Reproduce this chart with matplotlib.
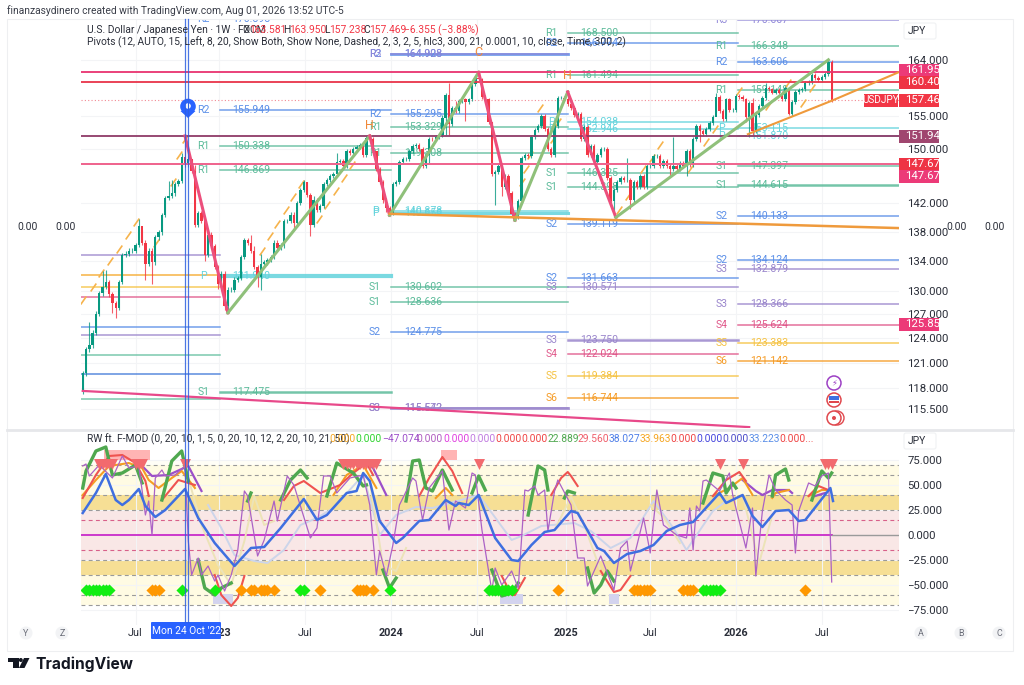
import matplotlib
matplotlib.use("Agg")
import matplotlib.pyplot as plt
from matplotlib.patches import Circle, Polygon, Rectangle, FancyBboxPatch
from matplotlib.ticker import NullLocator
import numpy as np

plt.rcParams["font.family"] = ["Roboto", "DejaVu Sans"]

nan = float("nan")

# weekly closes
closes = [
    119.7, 122.6, 123.1, 124.7, 127.1, 129.7, 130.6, 131.2, 129.6, 128.4,
    127.8, 131.2, 134.8, 135.0, 135.4, 135.4, 136.2, 138.8, 136.5, 133.6,
    135.4, 133.8, 137.2, 137.9, 140.3, 142.7, 143.0, 143.4, 144.8, 145.2,
    148.7, 147.6, 148.4, 146.7, 138.9, 140.6, 139.5, 134.8, 137.6, 136.0,
    133.2, 131.0, 132.3, 128.1, 130.2, 130.2, 131.5, 131.7, 134.5, 136.8,
    136.5, 135.4, 133.2, 131.9, 133.6, 133.8, 134.1, 134.5, 136.5, 135.8,
    136.1, 139.5, 139.5, 140.4, 139.2, 142.0, 143.9, 145.0, 143.2, 138.9,
    142.4, 141.1, 141.6, 144.8, 145.3, 146.0, 146.2, 148.0, 148.2, 147.4,
    149.6, 149.3, 150.0, 150.3, 150.5, 149.0, 151.6, 151.4, 149.7, 147.0,
    145.0, 142.4, 141.3, 140.6, 144.8, 145.0, 148.0, 148.4, 148.4, 149.7,
    150.4, 150.6, 149.9, 147.4, 149.0, 151.5, 151.4, 151.7, 152.1, 154.7,
    158.3, 153.7, 156.3, 155.8, 157.3, 157.6, 157.2, 157.6, 160.0, 161.1,
    160.8, 158.0, 157.6, 154.0, 146.3, 146.5, 147.4, 144.3, 146.0, 143.5,
    140.5, 140.0, 142.3, 148.6, 149.1, 148.9, 151.7, 152.8, 153.4, 155.0,
    153.0, 150.0, 149.0, 153.5, 157.9, 157.9, 157.6, 156.9, 156.2, 155.1,
    155.3, 151.4, 153.3, 149.0, 150.4, 148.0, 149.0, 149.9, 149.9, 145.6,
    142.3, 143.9, 145.0, 145.7, 145.3, 145.4, 142.5, 145.0, 144.3, 146.0,
    144.4, 147.4, 147.4, 148.9, 148.9, 147.4, 148.1, 147.4, 147.0, 147.4,
    147.0, 147.8, 147.4, 149.7, 147.6, 151.4, 153.4, 152.7, 152.2, 153.0,
    153.9, 154.9, 158.0, 155.8, 154.5, 157.6, 156.0, 156.0, 158.1, 158.0,
    157.6, 154.8, 157.0, 152.7, 155.2, 156.6, 157.8, 159.5, 159.2, 158.7,
    159.1, 158.7, 157.6, 159.5, 155.3, 157.2, 158.8, 159.1, 159.3, 160.2,
    160.4, 161.5, 161.0, 160.7, 161.2, 161.7, 163.581, 157.469,
]
first_open = 117.6
long_highs = {2: 126, 6: 132.6, 7: 132.8, 17: 139.8, 18: 138.2, 26: 145.2, 27: 145.3,
              30: 149.3, 31: 151.94, 32: 149.5, 33: 148.5, 34: 147.6, 37: 139.2,
              51: 137.6, 52: 136, 54: 135.0, 68: 145.0, 70: 143, 77: 149.3, 87: 151.94,
              89: 149.5, 109: 155.2, 110: 158.6, 111: 160.2, 113: 157.4, 120: 161.95,
              124: 154, 147: 158.8, 165: 148.6, 179: 151.7, 192: 158.7, 203: 157.8,
              207: 160.2, 214: 159.6, 226: 163.95, 227: 163.95}
long_lows = {0: 117.2, 9: 127.2, 10: 126.6, 19: 131.5, 21: 131, 37: 134, 41: 130.3,
             43: 127.5, 44: 127.2, 53: 130.5, 54: 130.1, 64: 138.2, 69: 137.4, 92: 140.8,
             93: 140.3, 105: 147.8, 110: 152, 111: 152, 116: 154.2, 125: 141.8, 127: 143,
             131: 139.6, 160: 141.8, 161: 140.0, 166: 141.2, 178: 146, 183: 146, 187: 151,
             192: 155.6, 201: 154, 202: 151.7, 203: 152, 214: 155.1, 227: 157.238}

# zigzag pivots
zig_i = [31, 44, 87, 93, 120, 131, 147, 161.6, 226]
zig_p = [151.94, 127.2, 151.94, 140.3, 161.95, 139.6, 158.8, 140.0, 164.0]
dash_i = [0, 3, 5.6, 8.4, 11, 13.7, 16.2, 22.2, 27.4, 29.2, 31, 54.2, 56.8, 59, 61.5, 63.8,
          66.1, 71.7, 74.1, 76.7, 79.3, 81.5, 133, 134.3, 135.5, 138.6, 142.5, 144, 162.6,
          165.3, 169.8, 172.4, 175, 184, 189, 191.6, 199, 207.7, 213.7, 218.3, 221]
dash_p = [128.9, 130.6, 132.4, 134, 135.6, 137.6, 139.3, 136.5, 145, 149, 151.4, 135.4, 137.4,
          139.1, 141, 142.9, 144.8, 139.8, 141.8, 143.7, 145.7, 147.6, 145, 147, 149.1, 156.3,
          151.4, 154, 141, 143, 147, 148.6, 150.5, 147, 151, 153, 159, 156.6, 160.3, 157, 159.5]

# horizontal alert lines across the whole pane
alert_levels = [161.951, 160.400, 151.944, 147.670, 147.670]
alert_colors = ["#e8336f", "#e8344a", "#8f3a68", "#e8344a", "#f06a95"]
last_price = 157.469

# pivot blocks: first week, last week, labels, levels
block_a = (-1, 41.5, [""] * 9,
           [134.8, 132.1, 130.5, 129.3, 125.4, 124.4, 121.9, 119.6, 116.6])
block_a_colors = ["#9a86cc", "#f5a623", "#f5c242", "#e0588a", "#5b8fe8", "#9a86cc", "#63bfa0", "#3f78d8", "#63bfa0"]
block_b = (41.5, 93.5, ["R2", "R2", "R1", "R1", "P", "S1"],
           [170.898, 155.949, 150.338, 146.869, 131.940, 117.475])
block_c = (93.5, 147, ["R2", "R3", "R2", "R1", "R1", "P", "P", "S1", "S1", "S2", "S3", "S3"],
           [164.928, 164.908, 155.295, 153.329, 149.308, 140.878, 140.656, 130.602, 128.636, 124.775, 115.572, 115.542])
block_d = (147, 198.5, ["R1", "R2", "R1", "P", "P", "S1", "S1", "S2", "S2", "S3", "S3", "S4", "S5", "S6"],
           [168.500, 166.774, 161.494, 154.038, 152.946, 146.325, 144.398, 139.119, 131.663, 130.571, 123.750, 122.024, 119.384, 116.744])
block_e = (198.5, 248, ["R3", "R1", "R2", "R1", "P", "P", "S1", "S1", "S2", "S2", "S3", "S3", "S4", "S5", "S6"],
           [170.667, 166.348, 163.606, 159.148, 153.115, 151.870, 147.397, 144.615, 140.133, 134.124, 132.879, 128.366, 125.624, 123.383, 121.142])
level_colors = {"R1": "#5cbb9a", "S1": "#5cbb9a", "R2": "#5b8fe8", "S2": "#5b8fe8", "R3": "#8f86d8",
                "S3": "#9a86cc", "S4": "#e0588a", "S5": "#f5c242", "S6": "#f59a23", "P": "#63d3dc"}

price_ticks = [164, 155, 150, 142, 138, 134, 130, 127, 124, 121, 118, 115.5]
time_ticks = [16, 41.3, 67.5, 93.5, 119.5, 146.5, 172, 198, 224]
time_labels = ["Jul", "2023", "Jul", "2024", "Jul", "2025", "Jul", "2026", "Jul"]
osc_ticks = [75, 50, 25, 0, -25, -50, -75]
osc_dashes = [70, 60, 40, 25, 15, -15, -25, -40, -60, -70]

# oscillator series, gaps where the script stops plotting
blue_i = [0, 4, 7, 10, 12, 14, 17, 19, 22, 25, 31, 35, 40, 46, 51, 55, 60, 67, 71, 74, 80, 83, 85, 87, 90, 95, 97,
          102, 105, 110, 113, 114, 117, 120, 125, 130, 132, 136, 140, 143, 148, 150, 156, 158, 161, 165, 169, 173,
          177, 181, 185, 193, 195, 200, 203, 206, 210, 214, 217, 219, 226.6, 227.4]
blue_v = [22, 42, 61, 35, 30, 35, 46, 29, 18, 25, 46, 17, -8, -31, -13, -12, 7, 36, 15, 20, 42, 44, 62, 54, 14, -8, -3,
          14, 15, 35, 29, 32, 30, 40, -3, -25, -26, -10, 3, 5, 24, 22, -13, -16, -28, -19, -16, -10,
          4, 10, 13, 42, 32, 40, 19, 8, 24, 25, 14, 15, 47, 34]
thin_i = [0, 1, 2, 5, 9, 12, 14, 17, 19, 20, 21, 22, 24, 25, 28, 31, 32, 33, 35, 36, 38, 40, 41, 43, 45, 47, 49, 50,
          53, 55, 58, 59, 62, 64, 69, 71, 73, 75, 77, 81, 85, 87, 89, 90, 92, 94, 96, 100, 101, 103, 105, 109, 111,
          113, 116, 118, 119, 121, 124, 125, 127, 130, 132, 134, 135, 137, 138, 140, 141, 143, 144, 148, 150, 152,
          153, 157, 161, 163, 165, 166, 168, 170, 172, 174, 176, 180, 183, 184, 185, 186, 187, 188, 189, 193, 196,
          197, 201, 203, 204, 206, 208, 210, 213, 215, 216, 217, 220, 222, 224, 226, 227]
thin_v = [69, 71, 59, 70, 57, 79, 67, 69, 20, 34, 0, 57, 65, 59, 60, 69, -6, -40, -23, -40, -31, -46, -40, -56, -40,
          -15, 44, 39, -21, -5, 34, 14, 59, 50, -3, 7, 59, 59, 42, 57, 60, 30, -40, -16, -41, -10, 30, 57, 54, 15,
          47, 64, 5, 34, 27, 62, 60, 5, -56, -33, -50, -36, -53, 45, 44, 49, 40, 45, 4, 44, 55, 30, -23, -23, -51,
          -21, -55, -13, -6, -36, -10, 17, -18, 45, 10, 0, -3, 27, -15, 29, 24, 54, 55, 44, 62, 40, -13, 27, -41,
          24, 60, 45, 35, 30, -18, 24, 52, 49, 59, 62, -47]
green_i = [0, 1, 4, 7, 9, 12, 16, 18, nan, 24, 27, 30, 32, nan, 35, 37, 40, 42, 45, nan, 50, 51, nan, 60, 63, 66, 68, nan,
           74, 77, 82, 85, 86, nan, 91, 93, 95, nan, 98, 100, 102, 104, 106, 109, 112, nan, 118, 120, 122, nan,
           124, 127, 130, 132, nan, 135, 138, 140, 141, nan, 146, 147, 149, nan, 153, 155, 157, 159, 161, nan,
           188, 191, 194, 195, 197, 198, nan, 209, 210, 213, 214, nan, 221, 224, 226, 227]
green_v = [47, 64, 84, 88, 60, 62, 70, 52, nan, 35, 74, 84, 54, nan, -25, -53, -60, -53, -48, nan, 34, 42, nan, 35, 55, 65, 57, nan,
           39, 72, 62, 49, 50, nan, -35, -53, -43, nan, 34, 74, 75, 47, 44, 65, 45, nan, 42, 59, 45, nan,
           -35, -61, -58, -48, nan, 20, 69, 65, 45, nan, 37, 44, 42, nan, -33, -58, -50, -36, -46, nan,
           32, 62, 59, 42, 52, 47, nan, 39, 60, 66, 55, nan, 35, 64, 57, 62]
red_i = [0, 4, 8, 12, 16, 19, 20, nan, 24, 29, 34, nan, 40, 42, 45, 47, 49, nan, 61, 64, 67, 72, 78, 82, 86, 88, nan,
         102, 105, 109, 112, 115, nan, 127, 130, 131, 134, nan, 142, 145, 147, 148, 150, nan, 157, 161, 163, 166, nan,
         191, 195, 199, 201, nan, 220, 223, 226]
red_v = [37, 60, 79, 80, 72, 54, 39, nan, 35, 55, 50, nan, -40, -60, -71, -63, -41, nan, 35, 49, 54, 42, 50, 62, 72, 60, nan,
         39, 57, 78, 64, 42, nan, -41, -60, -60, -43, nan, 40, 57, 63, 59, 49, nan, -36, -57, -55, -41, nan,
         39, 55, 63, 54, nan, 39, 49, 45]
orange_i = [0, 4, 8, 14, 18, 20, 23, 27, 30, 34, nan, 76, 80, 85, 89, nan, 107, 110, 112, nan, 191, 196, 200, 203, nan,
            209, 210, 214, nan, 220, 224, 226]
orange_v = [40, 55, 69, 72, 67, 55, 47, 57, 64, 47, nan, 40, 60, 70, 47, nan, 37, 47, 40, nan, 39, 47, 57, 40, nan,
            37, 42, 45, nan, 39, 45, 45]
violet_i = [18, 21, 26, 32, 36, nan, 85, 88, 92, nan, 200, 204, 206, 209, 214, 215, nan, 222, 225]
violet_v = [69, 59, 60, 69, 44, nan, 74, 67, 40, nan, 55, 44, 40, 45, 45, 42, nan, 39, 42]
pale_blue_i = [38, 42, 46, 52, 56, 61, 66, 71, 76, 85, 90, 95, 101, 106, 120, 130, 133, 139, 149, 154, 160, 166, 173, 179, 183, 191, 195]
pale_blue_v = [30, 7, -20, -26, -28, -15, 10, 17, 27, 60, 0, 20, 28, 27, 40, -5, -1, 9, 12, 4, -13, -3, 34, 7, -15, 24, 34]
pale_gold_i = [32, 36, 41, 45, 49, 52, 55, 58, nan, 87, 91, 95, 98, nan, 143, 148, 152, 157, nan, 172, 176, 181, nan, 200, 205, 209]
pale_gold_v = [57, 10, -30, -50, -6, 39, 10, 14, nan, 54, -30, -36, -13, nan, 5, 38, 10, -36, nan, 30, 18, -8, nan, 40, -28, 20]

green_diamonds = [1, 2, 3, 4, 5, 6, 7, 8, 30, 40, 66, 67, 93, 123, 124, 125, 126, 127, 128, 129, 130, 188, 189, 190, 191, 192, 193]
orange_diamonds = [21, 22, 23, 48, 51, 52, 54, 55, 56, 58, 72, 83, 84, 85, 86, 88, 144, 167, 168, 169, 170, 171, 172, 182, 183, 184, 185, 219]
red_triangles = [5, 6, 7, 8, 9, 16, 17, 18, 31, 79, 80, 81, 82, 83, 84, 85, 86, 87, 88, 89, 120, 193, 200, 225, 226, 227]
pink_squares = [8, 9, 10, 11, 12, 13, 14, 15, 16, 17, 18, 19, 110, 111, 112]
lavender_squares = [41, 42, 43, 44, 128, 129, 130, 131, 132, 161]

# px geometry of the panes
W, H = 1024, 685
LEFT, RIGHT = 81, 899
fig = plt.figure(figsize=(W / 100, H / 100), dpi=100, facecolor="white")


def pane(top, bottom):
    return fig.add_axes([LEFT / W, 1 - bottom / H, (RIGHT - LEFT) / W, (bottom - top) / H])


ax = pane(20, 428)
osc = pane(431, 625)
week_range = (-0.52, 247.4)

# ---- price pane
ax.set_yscale("log")
ax.set_xlim(*week_range)
ax.set_ylim(113.3, 170.7)
ax.yaxis.set_minor_locator(NullLocator())
ax.set_yticks(price_ticks)
ax.set_yticklabels([f"{t:.3f}" for t in price_ticks], fontsize=8.2, color="#2a2e39")
ax.yaxis.tick_right()
ax.tick_params(axis="y", which="both", length=0, pad=6)
ax.set_xticks(time_ticks)
ax.tick_params(axis="x", length=0, labelbottom=False)
ax.grid(True, color="#f3f4f6", lw=0.8)
ax.set_axisbelow(True)
for s in ax.spines.values():
    s.set_visible(False)

for v, c in zip(alert_levels, alert_colors):
    ax.axhline(v, color=c, lw=1.3, zorder=3.2)
ax.axhline(last_price, color="#f28a94", lw=0.8, ls=(0, (1, 2)), zorder=1.5)

ax.plot(*zip(*[(i, p) for i, p in zip(zig_i[0:2], zig_p[0:2])]), color="#ec4f7c", lw=2.2, zorder=4)
for k in range(1, len(zig_i) - 1):
    col = "#8fc07a" if k % 2 == 1 else "#ec4f7c"
    ax.plot(zig_i[k:k + 2], zig_p[k:k + 2], color=col, lw=2.2, zorder=4)
ax.plot([93, 247.4], [140.5, 138.5], color="#ef9a3c", lw=1.8, zorder=4)
ax.plot([201.6, 227, 247.4], [152.2, 157.4, 162.0], color="#ef9a3c", lw=1.5, zorder=4)
ax.plot([0, 202], [117.6, 113.4], color="#e8498a", lw=1.6, zorder=4)
for i, p in zip(dash_i, dash_p):
    ax.plot([i], [p], marker=(2, 0, -35), ms=7, mew=1.2, color="#f6b34c", zorder=2.5)

thick = {131.940: 3, 164.928: 2, 115.572: 2, 140.656: 2.2, 117.475: 1.8, 123.750: 1.8, 144.615: 1.8}
for start, end, names, levels in [block_b, block_c, block_d, block_e]:
    for name, lev in zip(names, levels):
        col = level_colors[name]
        ax.plot([start, end], [lev, lev], color=col, lw=thick.get(lev, 1.1), alpha=0.85, zorder=2)
        ax.text(start - 4.9, lev, name, color=col, fontsize=7.6, ha="center", va="center", clip_on=True, zorder=2.2)
        ax.text(start + 3.8, lev, f"{lev:.3f}", color=col, fontsize=7.6, ha="left", va="center", clip_on=True, zorder=2.2)
for lev, col in zip(block_a[3], block_a_colors):
    ax.plot([block_a[0], block_a[1]], [lev, lev], color=col, lw=1.1, alpha=0.85, zorder=2)

weeks = np.arange(len(closes))
c = np.array(closes)
o = np.r_[first_open, c[:-1]]
hi = np.array([long_highs.get(i, max(o[i], c[i]) + 0.3) for i in weeks])
lo = np.array([long_lows.get(i, min(o[i], c[i]) - 0.3) for i in weeks])
up = c >= o
colors = np.where(up, "#089981", "#f23645")
ax.vlines(weeks, lo, hi, colors=colors, lw=0.8, alpha=0.8, zorder=3)
ax.bar(weeks, c - o, bottom=o, width=0.72, color=colors, zorder=3.1)

ax.text(120, 165.2, "C", color="#f0893a", fontsize=9, ha="center", va="center", zorder=5)
ax.text(87, 153.6, "H", color="#f0893a", fontsize=9, ha="center", va="center", zorder=5)
ax.text(147, 161.5, "H", color="#f0893a", fontsize=9, ha="center", va="center", zorder=5)

# ---- oscillator pane
osc.set_xlim(*week_range)
osc.set_ylim(-90, 104)
osc.set_yticks(osc_ticks)
osc.set_yticklabels([f"{t:.3f}".replace("-", "\u2212") for t in osc_ticks], fontsize=8.2, color="#2a2e39")
osc.yaxis.tick_right()
osc.tick_params(axis="y", length=0, pad=6)
osc.set_xticks(time_ticks)
osc.set_xticklabels(time_labels, fontsize=7.8, color="#2a2e39")
for lab, txt in zip(osc.get_xticklabels(), time_labels):
    if txt != "Jul":
        lab.set_fontweight("bold")
osc.tick_params(axis="x", length=0, pad=2.5)
osc.grid(True, color="#f3f4f6", lw=0.8)
osc.set_axisbelow(True)
for s in osc.spines.values():
    s.set_visible(False)

osc.axhspan(40, 70, color="#fffbe3", lw=0, zorder=0.5)
osc.axhspan(25, 40, color="#f6df95", lw=0, zorder=0.5)
osc.axhspan(-25, 25, color="#f9e7e6", lw=0, zorder=0.5)
osc.axhspan(-40, -25, color="#f6df95", lw=0, zorder=0.5)
osc.axhspan(-70, -40, color="#fffbe3", lw=0, zorder=0.5)
osc.axhspan(70, 75, color="#fffef6", lw=0, zorder=0.5)
for d in osc_dashes:
    dash_col = "#d8608a" if abs(d) == 15 else "#9a9a9a"
    osc.axhline(d, color=dash_col, lw=0.8, ls=(0, (3.5, 3)), zorder=1)
osc.plot([-0.52, 227], [0, 0], color="#c92ac9", lw=1.3, zorder=2)
osc.plot([227, 247.4], [0, 0], color="#9a9a9a", lw=1, zorder=2)

osc.plot(pale_blue_i, pale_blue_v, color="#ccd5ea", lw=1.4, zorder=2)
osc.plot(pale_gold_i, pale_gold_v, color="#ece3b8", lw=1.4, zorder=2)
osc.scatter(pink_squares, [80] * len(pink_squares), marker="s", s=42, color="#ffb4b4", lw=0, zorder=2.2)
osc.scatter(lavender_squares, [-64] * len(lavender_squares), marker="s", s=42, color="#d3d3ee", lw=0, zorder=2.2)
osc.plot(violet_i, violet_v, color="#9c4fc9", lw=1.6, zorder=3)
osc.plot(orange_i, orange_v, color="#f59d23", lw=1.5, zorder=3)
osc.plot(red_i, red_v, color="#ef5350", lw=1.5, zorder=3.1)
osc.plot(green_i, green_v, color="#4fa84f", lw=2.4, zorder=3.2)
osc.plot(thin_i, thin_v, color="#ab62c6", lw=0.9, zorder=3.3)
osc.plot(blue_i, blue_v, color="#3f6fe0", lw=1.8, zorder=3.4)
osc.scatter(green_diamonds, [-55] * len(green_diamonds), marker="D", s=38, color="#12ee12", lw=0, zorder=3.5)
osc.scatter(orange_diamonds, [-55] * len(orange_diamonds), marker="D", s=38, color="#ff9800", lw=0, zorder=3.5)
osc.scatter(red_triangles, [71] * len(red_triangles), marker="v", s=62, color="#f26a6e", lw=0, zorder=3.6)

# ---- page furniture drawn in pixels
ov = fig.add_axes([0, 0, 1, 1], facecolor="none", zorder=10)
ov.set_xlim(0, W)
ov.set_ylim(H, 0)
ov.axis("off")
ov.add_patch(Rectangle((7, 19), 1006, 632, fill=False, ec="#eeeff1", lw=0.8))
ov.plot([7, 1013], [429.5, 429.5], color="#e6e7ea", lw=2)

TXT = "#2a2e39"
ov.text(7, 10.5, "finanzasydinero created with TradingView.com, Aug 01, 2026 13:52 UTC-5",
        fontsize=7.4, color="#3a3e49", va="center")
ov.text(87, 30, "U.S. Dollar / Japanese Yen \u00b7 1W \u00b7 FXCM", fontsize=7.4, color=TXT, va="center")
for x, s, col in [(242, "O", TXT), (249, "163.581", "#f23645"), (283, "H", TXT), (289, "163.950", "#f23645"),
                  (324, "L", TXT), (329, "157.238", "#f23645"), (363, "C", TXT), (369, "157.469", "#f23645"),
                  (404, "\u22126.355 (\u22123.88%)", "#f23645")]:
    ov.text(x, 30, s, fontsize=7.4, color=col, va="center")
ov.text(87, 42, "Pivots (12, AUTO, 15, Left, 8, 20, Show Both, Show None, Dashed, 2, 3, 2, 5, hlc3, 300, 21, 0.0001, 10, close, Time, 300, 2)",
        fontsize=7.4, color=TXT, va="center")
ov.text(87, 439, "RW ft. F-MOD (0, 20, 10, 1, 5, 0, 20, 10, 12, 2, 20, 10, 21, 50)", fontsize=7.4, color=TXT, va="center")
for x, s, col in [(329, "0.000", "#f5a623"), (355, "0.000", "#2fd32f"), (382, "\u221247.074", "#9c4fc9"), (416, "0.000", "#b05cc0"),
                  (443, "0.000", "#e040e0"), (469, "0.000", "#c07ae0"), (495, "0.000", "#ef4444"), (521, "0.000", "#ef4444"),
                  (548, "22.889", "#4fa84f"), (578, "29.560", "#ef5e6a"), (609, "38.027", "#4f7fe8"), (640, "33.963", "#f5a623"),
                  (670, "0.000", "#ef4444"), (696, "0.000", "#4444dd"), (722, "0.000", "#4a4ac8"), (749, "33.223", "#5b8fe8"),
                  (779, "0.000...", "#ef4444")]:
    ov.text(x, 439, s, fontsize=7.4, color=col, va="center")

for x in [28, 66, 957, 995]:
    ov.text(x, 227, "0.00", fontsize=7.4, color=TXT, ha="center", va="center")

for y in [31, 441]:
    ov.add_patch(FancyBboxPatch((904, y - 8), 32, 16, boxstyle="round,pad=0,rounding_size=2", fc="white", ec="#f0f1f3", lw=0.8))
    ov.text(908, y, "JPY", fontsize=7.4, color=TXT, va="center")

# price tags
for y, s, col in [(70, "161.951", "#ec3a78"), (82, "160.400", "#ee3344"), (100, "157.469", "#f23645"), (136, "151.944", "#a0466f"),
                  (164, "147.670", "#ee3344"), (176, "147.670", "#ec3a78"), (324, "125.856", "#ec3a78")]:
    ov.add_patch(Rectangle((899, y - 6.5), 40, 13, fc=col, ec="none"))
    ov.text(905, y, s, fontsize=8.2, color="white", va="center", zorder=12)
ov.add_patch(Rectangle((864, 93.5), 34, 13, fc="#f23645", ec="none"))
ov.text(881, 100, "USDJPY", fontsize=7.2, color="white", ha="center", va="center")

# crosshair and pin
for x in [184.5, 188]:
    ov.plot([x, x], [19, 622], color="#2d5fe0", lw=0.9, alpha=0.85)
ov.add_patch(Polygon([(180.5, 111), (195.5, 111), (188, 118)], fc="#2962ff", ec="none"))
ov.add_patch(Circle((188, 106.5), 7.8, fc="#2962ff", ec="none"))
ov.add_patch(Circle((188, 106), 2.8, fc="white", ec="none"))
ov.add_patch(Rectangle((188, 102), 1, 7, fc="#2962ff", ec="none"))
ov.add_patch(FancyBboxPatch((151, 622), 70, 17, boxstyle="round,pad=0,rounding_size=1", fc="#2962ff", ec="none"))
ov.text(186, 630.5, "Mon 24 Oct '22", fontsize=7.4, color="white", ha="center", va="center")

# event icons
ov.add_patch(Circle((834, 383), 7, fc="white", ec="#9c3fc4", lw=1.1))
ov.text(834, 383, "\u26a1", fontsize=6, color="#9c3fc4", ha="center", va="center", family=["DejaVu Sans"])
ov.add_patch(Circle((834, 400), 7, fc="white", ec="#e0474c", lw=1.1))
ov.add_patch(Rectangle((829, 396), 10, 4, fc="#3f6fe0", ec="none"))
ov.add_patch(Rectangle((829, 401), 10, 2, fc="#e0474c", ec="none"))
ov.add_patch(Circle((837, 418), 7, fc="white", ec="#e0474c", lw=1))
ov.add_patch(Circle((834, 418), 7, fc="white", ec="#e0474c", lw=1.1))
ov.add_patch(Circle((834, 418), 2, fc="#e0474c", ec="none"))

# axis buttons
for x, s in [(26, "Y"), (62, "Z"), (921, "A"), (961, "B"), (999, "C")]:
    ov.add_patch(Circle((x, 633), 6.5, fc="#f2f3f5", ec="none"))
    ov.text(x, 633, s, fontsize=6.4, color="#6a6d78", ha="center", va="center")

# footer logo
LOGO = "#131722"
ov.add_patch(Rectangle((8, 658), 10.5, 3.6, fc=LOGO, ec="none"))
ov.add_patch(Rectangle((13, 658), 5.5, 10, fc=LOGO, ec="none"))
ov.add_patch(Circle((20.8, 660), 2, fc=LOGO, ec="none"))
ov.add_patch(Polygon([(24, 658), (29.5, 658), (24.5, 668), (19, 668)], fc=LOGO, ec="none"))
ov.text(35, 664, "TradingView", fontsize=11.2, fontweight="bold", color=LOGO, va="center", family=["Inter", "DejaVu Sans"])

fig.savefig("out.png", dpi=100, facecolor="white")
